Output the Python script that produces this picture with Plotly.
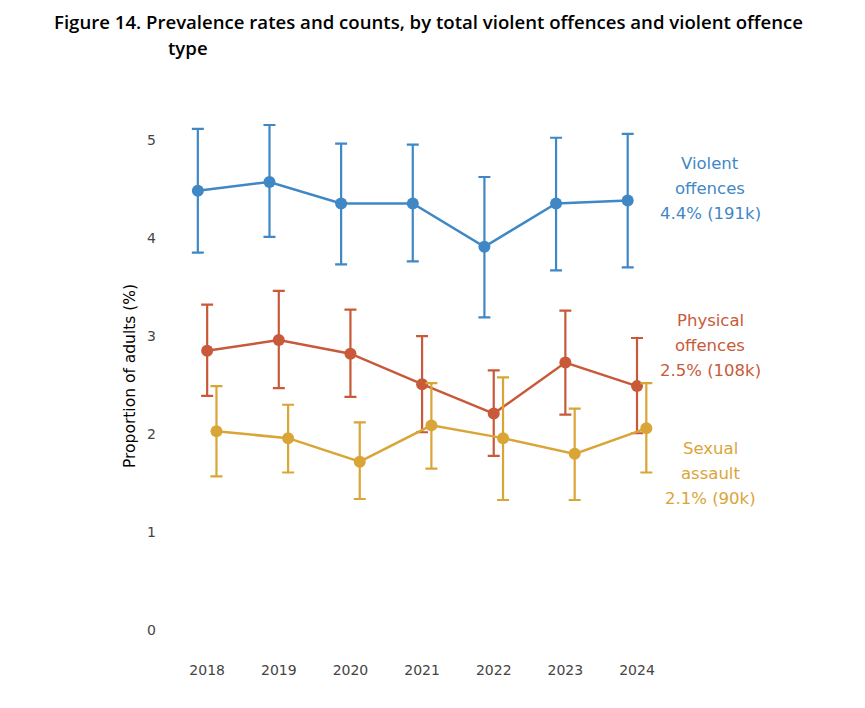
import plotly.graph_objects as go

years = [2018, 2019, 2020, 2021, 2022, 2023, 2024]

violent = [4.48, 4.57, 4.35, 4.35, 3.91, 4.35, 4.38]
violent_hi = [5.11, 5.15, 4.96, 4.95, 4.62, 5.02, 5.06]
violent_lo = [3.85, 4.01, 3.73, 3.76, 3.19, 3.67, 3.70]

physical = [2.85, 2.96, 2.82, 2.51, 2.21, 2.73, 2.49]
physical_hi = [3.32, 3.46, 3.27, 3.00, 2.65, 3.26, 2.98]
physical_lo = [2.39, 2.47, 2.38, 2.02, 1.78, 2.20, 2.01]

sexual = [2.03, 1.96, 1.72, 2.09, 1.96, 1.80, 2.06]
sexual_hi = [2.49, 2.30, 2.12, 2.52, 2.58, 2.26, 2.52]
sexual_lo = [1.57, 1.61, 1.34, 1.65, 1.33, 1.33, 1.61]

series_names = ["Violent offences", "Physical offences", "Sexual assault"]
label_lines = [
    ["Violent", "offences", "4.4% (191k)"],
    ["Physical", "offences", "2.5% (108k)"],
    ["Sexual", "assault", "2.1% (90k)"],
]
label_y = [4.50, 2.90, 1.60]
colors = ["#3F88C5", "#C85A3A", "#DAA537"]
offsets = [-0.13, 0.0, 0.13]

# plot-area geometry (pixels)
L, R_MARGIN, T, B = 157, 185, 71, 48
W = 865 - L - R_MARGIN
H = 708 - T - B

fig = go.Figure()
data = [
    (violent, violent_hi, violent_lo),
    (physical, physical_hi, physical_lo),
    (sexual, sexual_hi, sexual_lo),
]
for name, (vals, hi, lo), col, off in zip(series_names, data, colors, offsets):
    fig.add_trace(go.Scatter(
        x=[y + off for y in years], y=vals, name=name, mode="lines+markers",
        line=dict(color=col, width=2.5),
        marker=dict(color=col, size=12),
        error_y=dict(type="data", symmetric=False,
                     array=[h - v for h, v in zip(hi, vals)],
                     arrayminus=[v - l for v, l in zip(vals, lo)],
                     color=col, thickness=2.2, width=6),
        showlegend=False,
    ))

line_gap = 0.255
for lines, yc, col in zip(label_lines, label_y, colors):
    for i, t in enumerate(lines):
        fig.add_annotation(
            x=(710 - L) / W, y=yc + (1 - i) * line_gap, xref="paper", yref="y",
            text=t, showarrow=False, xanchor="center", yanchor="middle",
            font=dict(family="DejaVu Sans", size=16.5, color=col),
        )

title_font = dict(family="Open Sans", size=18.6, color="black", weight=600)
fig.add_annotation(
    x=(52 - L) / W, y=1 + (T - 22) / H, xref="paper", yref="paper",
    text="Figure 14. Prevalence rates and counts, by total violent offences and violent offence",
    showarrow=False, xanchor="left", yanchor="middle", font=title_font,
)
fig.add_annotation(
    x=(166 - L) / W, y=1 + (T - 47) / H, xref="paper", yref="paper",
    text="type", showarrow=False, xanchor="left", yanchor="middle", font=title_font,
)
fig.add_annotation(
    x=(130 - L) / W, y=(708 - B - 376) / H, xref="paper", yref="paper",
    text="Proportion of adults (%)", textangle=-90,
    showarrow=False, xanchor="center", yanchor="middle",
    font=dict(family="DejaVu Sans", size=15.5, color="black"),
)

fig.update_layout(
    width=865, height=708,
    paper_bgcolor="white", plot_bgcolor="white",
    margin=dict(l=L, r=R_MARGIN, t=T, b=B),
    font=dict(family="DejaVu Sans", color="#444444"),
)

fig.update_xaxes(
    range=[2017.3, 2024.6], tickvals=years, ticktext=[str(y) for y in years],
    showgrid=False, zeroline=False, showline=False, ticks="",
    tickfont=dict(family="DejaVu Sans", size=14, color="#444444"),
)
fig.update_yaxes(
    range=[-0.3, 5.7], tickvals=[0, 1, 2, 3, 4, 5],
    showgrid=False, zeroline=False, showline=False, ticks="",
    tickfont=dict(family="DejaVu Sans", size=14, color="#444444"),
)

fig.write_html("out.html")
